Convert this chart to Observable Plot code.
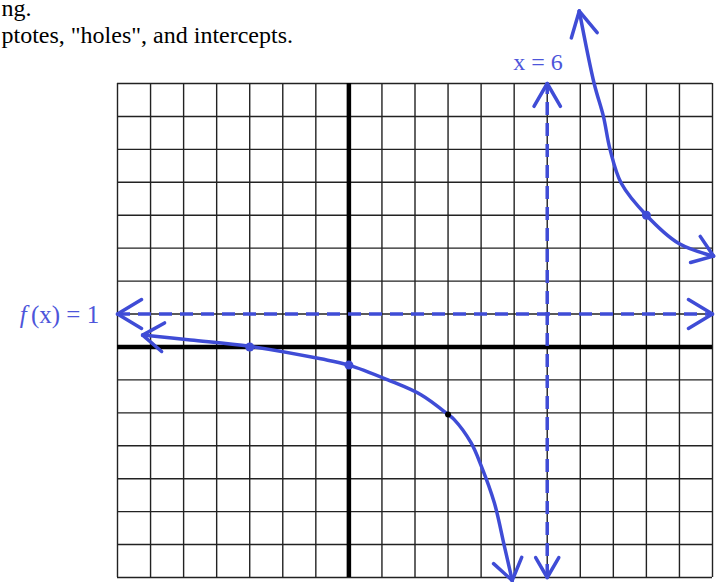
<!DOCTYPE html>
<html>
<head>
<meta charset="utf-8">
<script src="https://cdn.jsdelivr.net/npm/d3@7"></script>
<script src="https://cdn.jsdelivr.net/npm/@observablehq/plot@0.6"></script>
<style>
  html, body { margin: 0; padding: 0; background: #fff; }
  #chart svg { display: block; }
</style>
</head>
<body>
<div id="chart"></div>
<script>
// ---- data ----
const gridX = [-7,-6,-5,-4,-3,-2,-1,0,1,2,3,4,5,6,7,8,9,10,11];
const gridY = [-7,-6,-5,-4,-3,-2,-1,0,1,2,3,4,5,6,7,8];

const asymptoteX = 6;   // x = 6
const asymptoteY = 1;   // f(x) = 1

// left branch of the sketched curve (x, y)
const leftX = [-6.24, -4.79, -3.0, -0.85, 0.0, 1.18, 2.18, 3.0, 3.18, 3.69, 4.0, 4.4, 4.7, 4.94];
const leftY = [0.36, 0.21, 0.02, -0.36, -0.55, -1.0, -1.45, -2.05, -2.2, -2.9, -3.6, -4.73, -6.03, -7.09];

// right branch of the sketched curve (x, y)
const rightX = [6.97, 7.42, 7.7, 7.9, 8.24, 9.0, 9.97, 11.03];
const rightY = [10.2, 8.0, 7.0, 6.0, 4.97, 4.0, 3.15, 2.76];

// marked points
const blueDotX = [-3, 0, 9];
const blueDotY = [0, -0.55, 4];
const blackDotX = [3];
const blackDotY = [-2.05];

const headerLines = ["ng.", "ptotes, \"holes\", and intercepts."];
const labelVert = "x = 6";
const labelHorizF = "f";
const labelHorizRest = "(x) = 1";

// ---- build tables ----
const left = leftX.map((x, i) => ({x, y: leftY[i]}));
const right = rightX.map((x, i) => ({x, y: rightY[i]}));
const blueDots = blueDotX.map((x, i) => ({x, y: blueDotY[i]}));
const blackDots = blackDotX.map((x, i) => ({x, y: blackDotY[i]}));

const xMin = gridX[0], xMax = gridX[gridX.length - 1];
const yMin = gridY[0], yMax = gridY[gridY.length - 1];

function wings(tip, back, len, half) {
  const dx = back.x - tip.x, dy = back.y - tip.y;
  const d = Math.hypot(dx, dy);
  const ux = dx / d, uy = dy / d;
  return [half, -half].map(a => {
    const r = a * Math.PI / 180, c = Math.cos(r), s = Math.sin(r);
    return {x1: tip.x, y1: tip.y, x2: tip.x + len * (ux * c - uy * s), y2: tip.y + len * (ux * s + uy * c)};
  });
}

const curveHeads = [
  ...wings(left[0], left[1], 0.76, 35),
  ...wings(left[left.length - 1], left[left.length - 2], 0.76, 35),
  ...wings(right[0], right[1], 0.85, 28),
  ...wings(right[right.length - 1], right[right.length - 2], 0.72, 36)
];
const dashHeads = [
  ...wings({x: xMin, y: asymptoteY}, {x: xMin + 1, y: asymptoteY}, 0.85, 31),
  ...wings({x: xMax, y: asymptoteY}, {x: xMax - 1, y: asymptoteY}, 0.85, 31),
  ...wings({x: asymptoteX, y: yMax}, {x: asymptoteX, y: yMax - 1}, 0.8, 30),
  ...wings({x: asymptoteX, y: yMin}, {x: asymptoteX, y: yMin + 1}, 0.7, 30)
];

const BLUE = "#3f4cd6";
const LABEL = "#4d55da";
const serif = "'Liberation Serif', 'Times New Roman', serif";

const plot = Plot.plot({
  width: 720,
  height: 582,
  marginLeft: 117,
  marginRight: 8,
  marginTop: 83,
  marginBottom: 5,
  x: {domain: [xMin, xMax], axis: null},
  y: {domain: [yMin, yMax], axis: null},
  style: {background: "#fff", overflow: "visible"},
  marks: [
    // grid
    Plot.ruleX(gridX.filter(d => d !== 0), {x: d => d, y1: yMin, y2: yMax, stroke: "#222", strokeWidth: 1.4}),
    Plot.ruleY(gridY.filter(d => d !== 0), {y: d => d, x1: xMin, x2: xMax, stroke: "#222", strokeWidth: 1.4}),
    // axes
    Plot.ruleX([0], {x: d => d, y1: yMin, y2: yMax, stroke: "#000", strokeWidth: 4.5}),
    Plot.ruleY([0], {y: d => d, x1: xMin, x2: xMax, stroke: "#000", strokeWidth: 4.5}),
    // asymptotes
    Plot.ruleY([asymptoteY], {y: d => d, x1: xMin, x2: xMax, stroke: BLUE, strokeWidth: 3.5, strokeDasharray: "13,8"}),
    Plot.ruleX([asymptoteX], {x: d => d, y1: yMin, y2: yMax, stroke: BLUE, strokeWidth: 3.5, strokeDasharray: "13,8"}),
    Plot.link(dashHeads, {x1: "x1", y1: "y1", x2: "x2", y2: "y2", stroke: BLUE, strokeWidth: 3.5, strokeLinecap: "round"}),
    // curve
    Plot.line(left, {x: "x", y: "y", curve: "catmull-rom", stroke: BLUE, strokeWidth: 3.5, strokeLinecap: "round"}),
    Plot.line(right, {x: "x", y: "y", curve: "catmull-rom", stroke: BLUE, strokeWidth: 3.5, strokeLinecap: "round"}),
    Plot.link(curveHeads, {x1: "x1", y1: "y1", x2: "x2", y2: "y2", stroke: BLUE, strokeWidth: 3.5, strokeLinecap: "round"}),
    // points
    Plot.dot(blueDots, {x: "x", y: "y", r: 4.5, fill: BLUE}),
    Plot.dot(blackDots, {x: "x", y: "y", r: 3, fill: "#000"}),
    // labels
    Plot.text([labelVert], {x: 5.72, y: 8.63, text: d => d, fill: LABEL, fontFamily: serif, fontSize: 24}),
    Plot.text([labelHorizF], {x: -9.75, y: 0.97, text: d => d, fill: LABEL, fontFamily: serif, fontSize: 25, fontStyle: "italic", textAnchor: "end"}),
    Plot.text([labelHorizRest], {x: -9.62, y: 0.97, text: d => d, fill: LABEL, fontFamily: serif, fontSize: 25, textAnchor: "start"}),
    // header (text continues beyond the left edge in the source)
    Plot.text([headerLines[0]], {x: -10.51, y: 10.27, text: d => d, fill: "#000", fontFamily: serif, fontSize: 24, textAnchor: "start"}),
    Plot.text([headerLines[1]], {x: -10.51, y: 9.45, text: d => d, fill: "#000", fontFamily: serif, fontSize: 24, textAnchor: "start"})
  ]
});

document.getElementById("chart").appendChild(plot);
</script>
</body>
</html>
